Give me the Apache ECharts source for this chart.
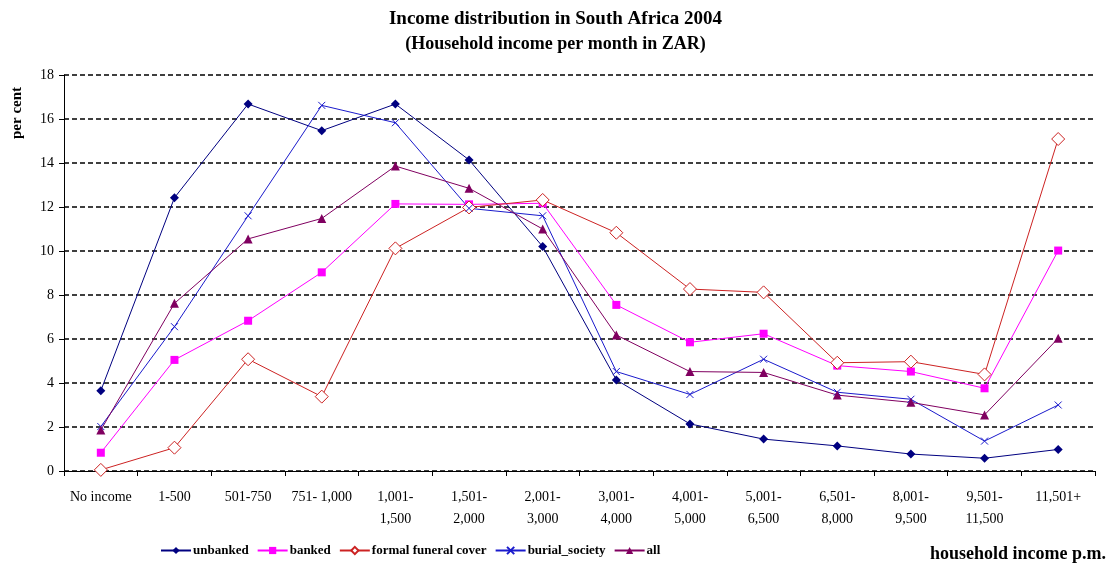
<!DOCTYPE html>
<html>
<head>
<meta charset="utf-8">
<script src="https://cdn.jsdelivr.net/npm/echarts@6/dist/echarts.min.js"></script>
<style>
  html, body { margin: 0; padding: 0; background: #fff; }
  #chart { width: 1111px; height: 585px; }
</style>
</head>
<body>
<div id="chart"></div>
<script>
// Household income bands (ZAR per month)
const categories = ['No income', '1-500', '501-750', '751- 1,000', '1,001-\n1,500', '1,501-\n2,000',
  '2,001-\n3,000', '3,001-\n4,000', '4,001-\n5,000', '5,001-\n6,500', '6,501-\n8,000',
  '8,001-\n9,500', '9,501-\n11,500', '11,501+'];

// Share of each group per income band, per cent
const unbanked      = [3.65, 12.42, 16.68, 15.47, 16.68, 14.14, 10.2, 4.14, 2.14, 1.45, 1.14, 0.77, 0.58, 0.98];
const banked        = [0.83, 5.05, 6.83, 9.03, 12.14, 12.12, 12.17, 7.55, 5.85, 6.24, 4.79, 4.52, 3.76, 10.02];
const funeralCover  = [0.05, 1.06, 5.08, 3.38, 10.12, 11.98, 12.32, 10.83, 8.27, 8.12, 4.92, 4.97, 4.39, 15.09];
const burialSociety = [2.02, 6.56, 11.6, 16.62, 15.83, 11.94, 11.6, 4.52, 3.48, 5.08, 3.58, 3.26, 1.36, 3.0];
const allHouseholds = [1.86, 7.62, 10.55, 11.48, 13.86, 12.85, 11.0, 6.18, 4.52, 4.48, 3.45, 3.12, 2.55, 6.03];

const yTicks = [0, 2, 4, 6, 8, 10, 12, 14, 16, 18];

const serif = '"Liberation Serif", "Times New Roman", serif';
const crossMark = 'path://M0,0L10,10M10,0L0,10';

function lineSeries(name, data, color, symbol, size, hollow) {
  return {
    name: name,
    type: 'line',
    data: data,
    symbol: symbol,
    symbolSize: size,
    showAllSymbol: true,
    lineStyle: { color: color, width: 1 },
    itemStyle: hollow
      ? { color: '#ffffff', borderColor: color, borderWidth: 1 }
      : { color: color, borderColor: color, borderWidth: symbol === crossMark ? 1 : 0 },
    emphasis: { disabled: true },
    animation: false,
    z: 3
  };
}

const chart = echarts.init(document.getElementById('chart'), null, { renderer: 'canvas' });
chart.setOption({
  backgroundColor: '#ffffff',
  animation: false,
  title: [
    { text: 'Income distribution in South Africa 2004', left: 'center', top: 5,
      textStyle: { fontFamily: serif, fontSize: 19, fontWeight: 'bold', color: '#000' } },
    { text: '(Household income per month in ZAR)', left: 'center', top: 30,
      textStyle: { fontFamily: serif, fontSize: 18, fontWeight: 'bold', color: '#000' } }
  ],
  grid: { left: 64, right: 16, top: 75, bottom: 114, containLabel: false },
  legend: {
    left: 155, top: 539,
    itemWidth: 30, itemHeight: 9, itemGap: 8,
    textStyle: { fontFamily: serif, fontSize: 13, fontWeight: 'bold', color: '#000', padding: [0, 0, 0, -3] },
    data: ['unbanked', 'banked', 'formal funeral cover', 'burial_society', 'all']
  },
  xAxis: {
    type: 'category',
    data: categories,
    boundaryGap: true,
    axisLine: { lineStyle: { color: '#000', width: 1 } },
    axisTick: { show: true, inside: false, length: 5, alignWithLabel: false, lineStyle: { color: '#000' } },
    axisLabel: { interval: 0, margin: 15, fontFamily: serif, fontSize: 14, color: '#000', lineHeight: 22 },
    splitLine: { show: false }
  },
  yAxis: {
    type: 'value',
    min: yTicks[0], max: yTicks[yTicks.length - 1], interval: 2,
    axisLine: { show: true, lineStyle: { color: '#000', width: 1 } },
    axisTick: { show: true, inside: false, length: 5, lineStyle: { color: '#000' } },
    axisLabel: { margin: 10, fontFamily: serif, fontSize: 14, color: '#000' },
    splitLine: { show: true, lineStyle: { color: '#000', width: 1.5, type: [5, 3] } }
  },
  graphic: [
    { type: 'text', x: 17, y: 113, rotation: Math.PI / 2,
      style: { text: 'per cent', fontFamily: serif, fontSize: 15, fontWeight: 'bold', fill: '#000',
               textAlign: 'center', textVerticalAlign: 'middle' } },
    { type: 'text', right: 5, top: 545,
      style: { text: 'household income p.m.', fontFamily: serif, fontSize: 18, fontWeight: 'bold', fill: '#000' } }
  ],
  series: [
    lineSeries('unbanked', unbanked, '#000080', 'diamond', 9, false),
    lineSeries('banked', banked, '#ff00ff', 'rect', 8, false),
    lineSeries('formal funeral cover', funeralCover, '#cc2222', 'diamond', 13, true),
    lineSeries('burial_society', burialSociety, '#1a1acc', crossMark, 7, false),
    lineSeries('all', allHouseholds, '#800060', 'triangle', 9, false)
  ]
});
</script>
</body>
</html>
